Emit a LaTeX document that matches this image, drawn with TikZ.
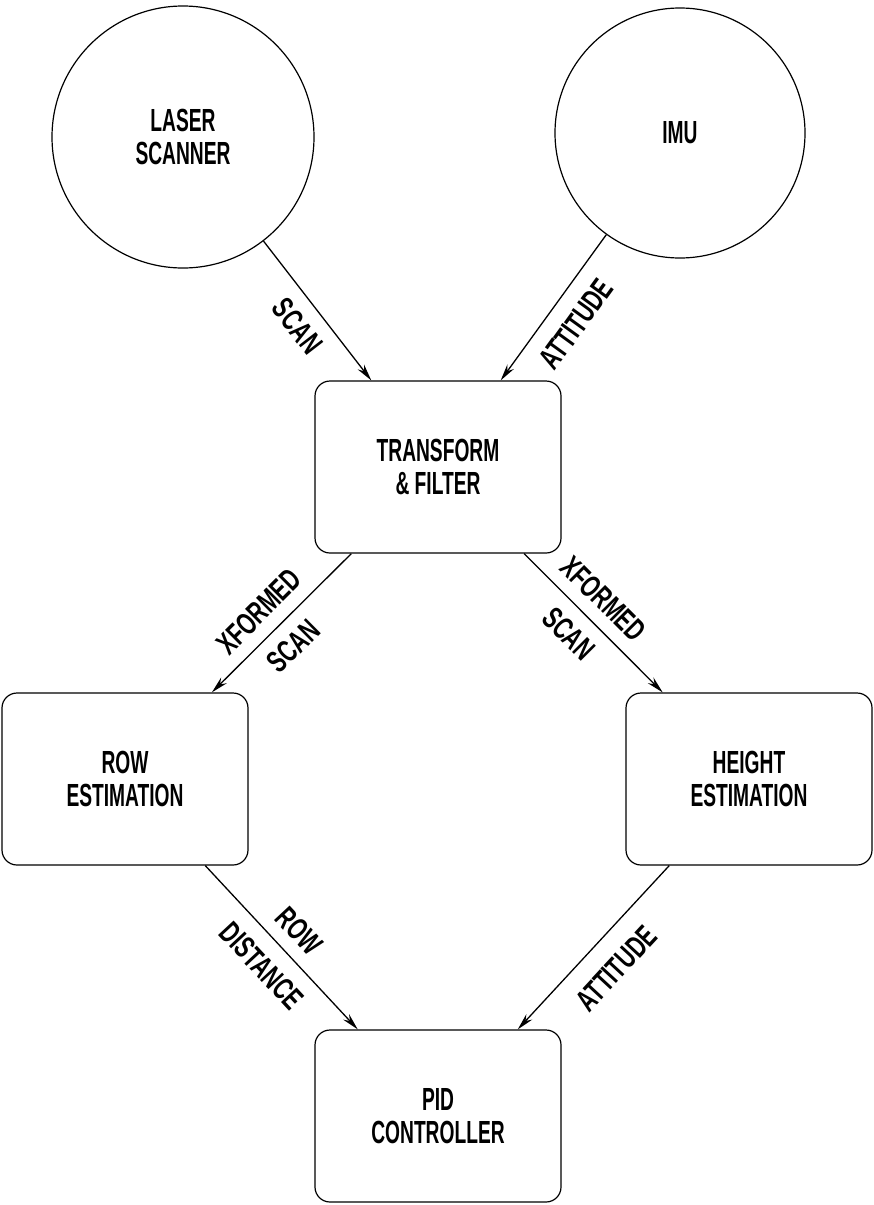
\documentclass[tikz,border=0pt]{standalone}
\usepackage{fontspec}
\newfontfamily\boxfont{Liberation Sans}[FakeStretch=0.6]
\newfontfamily\labfont{Liberation Sans}[FakeStretch=0.68]
\usetikzlibrary{arrows.meta}
\begin{document}
\begin{tikzpicture}[x=1pt,y=-1pt,
  sensor/.style={draw, line width=1.2pt, circle, inner sep=0pt, align=center,
    font=\boxfont\bfseries\fontsize{32}{33}\selectfont},
  block/.style={draw, line width=1.2pt, rounded corners=15pt, minimum width=246pt,
    minimum height=172pt, inner sep=0pt, align=center,
    font=\boxfont\bfseries\fontsize{32}{33}\selectfont},
  arr/.style={line width=1.3pt, -{Stealth[length=17pt,width=8pt]}},
  lab/.style={font=\labfont\bfseries\fontsize{31}{33}\selectfont, inner sep=0pt,
    text height=22pt, text depth=0pt, sloped}]
\useasboundingbox (0,0) rectangle (873,1205);
\node[sensor, minimum size=262pt] (laser) at (183,137) {LASER\\SCANNER};
\node[sensor, minimum size=250pt] (imu) at (680,133) {IMU};
\node[block] (tf) at (438,467) {TRANSFORM\\\& FILTER};
\node[block] (row) at (125,779) {ROW\\ESTIMATION};
\node[block] (height) at (749,779) {HEIGHT\\ESTIMATION};
\node[block] (pid) at (438,1116) {PID\\CONTROLLER};

\draw[arr] (laser) -- node[lab, midway, below=13pt] {SCAN} (tf);
\draw[arr] (imu) -- node[lab, midway, below=16pt] {ATTITUDE} (tf);
\draw[arr] (tf) -- node[lab, pos=0.54, above=13pt] {XFORMED}
                   node[lab, pos=0.54, below=13pt] {SCAN} (row);
\draw[arr] (tf) -- node[lab, pos=0.45, above=13pt] {XFORMED}
                   node[lab, pos=0.45, below=13pt] {SCAN} (height);
\draw[arr] (row) -- node[lab, midway, above=13pt] {ROW}
                    node[lab, midway, below=15pt] {DISTANCE} (pid);
\draw[arr] (height) -- node[lab, midway, below=19pt] {ATTITUDE} (pid);
\end{tikzpicture}
\end{document}
